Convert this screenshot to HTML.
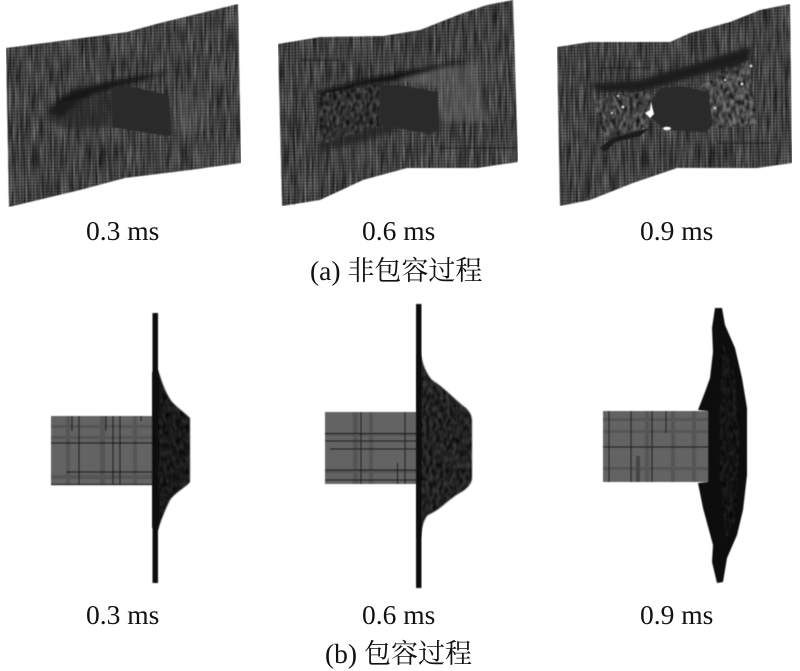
<!DOCTYPE html>
<html><head><meta charset="utf-8">
<style>
html,body{margin:0;padding:0;background:#fff}
svg{display:block}
text{font-family:"Liberation Serif","Noto Serif CJK SC",serif;font-size:27.500px;fill:#111}
</style></head>
<body>
<svg width="800" height="671" viewBox="0 0 800 671" xmlns="http://www.w3.org/2000/svg">
<defs>
<pattern id="mesh" width="3" height="3" patternUnits="userSpaceOnUse" patternTransform="rotate(-1)">
<rect width="3" height="3" fill="#5a5a5a"/>
<rect width="1" height="3" fill="#2a2a2a"/>
<rect width="3" height="1" fill="#303030"/>
</pattern>
<filter id="streak" x="0" y="0" width="100%" height="100%" color-interpolation-filters="sRGB">
<feTurbulence type="fractalNoise" baseFrequency=".42 .035" numOctaves="2" seed="4" result="n"/>
<feColorMatrix in="n" type="matrix" values=".9 0 0 0 .05  .9 0 0 0 .05  .9 0 0 0 .05  0 0 0 0 1" result="g"/>
<feComposite in="SourceGraphic" in2="g" operator="arithmetic" k1="2" k2="0" k3="0" k4="0" result="m"/>
<feComposite in="m" in2="SourceAlpha" operator="in" result="c"/>
<feGaussianBlur in="c" stdDeviation="0.650"/>
</filter>
<filter id="speck" x="-5%" y="-5%" width="110%" height="110%" color-interpolation-filters="sRGB">
<feTurbulence type="fractalNoise" baseFrequency=".3 .16" numOctaves="2" seed="9" result="n"/>
<feColorMatrix in="n" type="matrix" values="1.300 0 0 0 -.15  1.300 0 0 0 -.15  1.300 0 0 0 -.15  0 0 0 0 1" result="g"/>
<feComposite in="SourceGraphic" in2="g" operator="arithmetic" k1="2" k2="0" k3="0" k4="0" result="m"/>
<feComposite in="m" in2="SourceAlpha" operator="in" result="c"/>
<feGaussianBlur in="c" stdDeviation="0.800"/>
</filter>
<filter id="b1" x="-5%" y="-5%" width="110%" height="110%"><feGaussianBlur stdDeviation="0.500"/></filter>
<filter id="b2" x="-20%" y="-20%" width="140%" height="140%"><feGaussianBlur stdDeviation="2"/></filter>
<filter id="b3" x="-30%" y="-30%" width="160%" height="160%"><feGaussianBlur stdDeviation="0.500"/></filter>
</defs>

<!-- Top panel 1 -->
<path d="M6 48 L60 41 L127 32 L160 23 L238 4 L241 163 L190 170 L125 178 L80 190 L9 207 Z" fill="url(#mesh)" filter="url(#streak)"/>
<g filter="url(#b2)">
<path d="M48 112 L60 98 L75 90 L115 80 L172 71 L130 84 L100 92 L80 100 L62 118 Z" fill="#141414"/>
<path d="M46 118 L62 102 L80 98 L111 94 L111 127 L60 128 Z" fill="#222" opacity=".65"/>
<path d="M172 88 L205 100 L212 125 L195 135 L172 130 Z" fill="#777" opacity=".22"/>
</g>
<path d="M111 88 L124 85 L169 95 L172 135 L167 136 L112 127 Z" fill="#2c2c2c" filter="url(#b1)"/>

<!-- Top panel 2 -->
<path d="M278 44 L320 37 L383 36 L420 30 L463 13 L487 5 L513 0 L518 162 L477 168 L407 168 L363 180 L320 200 L282 206 Z" fill="url(#mesh)" filter="url(#streak)"/>
<g stroke="#141414" stroke-width="1.200" opacity=".55" filter="url(#b1)" fill="none"><path d="M294 42V205M464 14V166M300 60H340M440 148H517"/></g>
<g filter="url(#b2)">
<path d="M318 92 L370 78 L470 60 L400 80 L360 86 L320 100 Z" fill="#101010"/>
<path d="M445 68 L475 65 L488 122 L440 122 L440 88 L395 80 Z" fill="#707070" opacity=".42"/>
<path d="M318 142 L360 132 L385 122 L400 130 L360 142 L320 152 Z" fill="#1c1c1c" opacity=".65"/>
</g>
<path d="M317 94 L380 84 L380 125 L320 145 Z" fill="#303030" filter="url(#speck)"/>
<path d="M380 85 L398 85 L438 92 L439 130 L430 134 L380 125 Z" fill="#2a2a2a" filter="url(#b1)"/>

<!-- Top panel 3 -->
<path d="M557 47 L590 42 L670 42 L690 33 L730 22 L760 10 L790 4 L792 163 L757 168 L677 168 L633 183 L590 200 L560 206 Z" fill="url(#mesh)" filter="url(#streak)"/>
<g stroke="#141414" stroke-width="1.200" opacity=".55" filter="url(#b1)" fill="none"><path d="M588 44V198M730 24V166M600 68H650M718 143H770"/></g>
<g filter="url(#b2)">
<path d="M590 84 L640 80 L700 62 L752 46 L748 62 L690 78 L640 92 L600 92 Z" fill="#1a1a1a"/>
</g>
<path d="M593 100 L650 90 L652 118 L640 130 L605 140 Z" fill="#434343" filter="url(#speck)"/>
<path d="M700 86 L748 60 L757 125 L715 128 Z" fill="#4a4a4a" filter="url(#speck)"/>
<g fill="#ddd" filter="url(#b3)">
<circle cx="623" cy="107" r="1.400"/><circle cx="612" cy="113" r="1.100"/><circle cx="618" cy="96" r="1.100"/>
<circle cx="742" cy="84" r="1.500"/><circle cx="751" cy="66" r="1.400"/><circle cx="715" cy="108" r="1.100"/>
<circle cx="725" cy="80" r="1.100"/>
</g>
<path d="M600 148 L612 138 L650 128 L640 136 L615 142 L605 152 Z" fill="#1b1b1b" filter="url(#b3)"/>
<path d="M652 100 L660 88 L680 86 L708 92 L713 125 L705 132 L665 130 L652 118 Z" fill="#2a2a2a" filter="url(#b1)"/>
<path d="M651 102 L650 110 L645 113 L650 118 L654 114 Z" fill="#fff" filter="url(#b3)"/>
<ellipse cx="667" cy="128.500" rx="4" ry="1.700" fill="#fff" filter="url(#b3)"/>

<!-- Bottom panel 1 -->
<g filter="url(#b1)">
<rect x="51" y="416" width="102" height="69" fill="#646464"/>
<g fill="#555"><rect x="66" y="416" width="4" height="69"/><rect x="100" y="416" width="5" height="69"/><rect x="133" y="416" width="4" height="69"/><rect x="51" y="425" width="102" height="3"/><rect x="51" y="436" width="102" height="3"/><rect x="51" y="475" width="102" height="4"/></g>
<g stroke="#151515" stroke-width="1.200"><path d="M72 416V431M79 416V485M106 416V431M113 416V485M120 416V485M141 416V421M51 443H153M66 472H153M51 484.500H153"/></g>
</g>
<path d="M158 370 C162 382 165 392 172 402 C178 408 186 414 190 418 L190 482 C186 487 176 492 170 500 C165 510 161 520 158 530 L154 530 L154 370 Z" fill="#191919" filter="url(#speck)"/>
<path d="M158 372 C163 395 157 420 157 450 C157 490 163 510 158 528 L152 528 L152 372 Z M152.500 313 H158 V583 H152.500 Z" fill="#0e0e0e" filter="url(#b1)"/>

<!-- Bottom panel 2 -->
<g filter="url(#b1)">
<rect x="325" y="412" width="92" height="72" fill="#646464"/>
<g fill="#555"><rect x="353" y="412" width="5" height="72"/><rect x="369" y="412" width="4" height="72"/><rect x="325" y="433" width="92" height="3"/><rect x="325" y="470" width="92" height="3"/></g>
<g stroke="#1a1a1a" stroke-width="1.200"><path d="M361 412V484M405 412V484M397.500 463V484M325 433.500H417M325 441H417M330 449H417M325 470H417M325 480H417"/></g>
</g>
<path d="M421 355 C423 365 426 373 432 380 C445 388 455 400 466 408 C470 412 472 416 472 421 L472 478 C472 484 466 490 458 494 C448 500 440 510 428 515 C423 520 422 528 421 537 L417 537 L417 355 Z" fill="#222" filter="url(#speck)"/>
<rect x="416" y="304" width="5.500" height="284" fill="#111" filter="url(#b1)"/>

<!-- Bottom panel 3 -->
<g filter="url(#b1)">
<rect x="603" y="411" width="106" height="71" fill="#646464"/>
<g fill="#555"><rect x="645" y="411" width="4" height="71"/><rect x="671" y="411" width="4" height="71"/><rect x="692" y="411" width="4" height="71"/><rect x="603" y="418" width="106" height="3"/><rect x="603" y="430" width="106" height="3"/><rect x="603" y="467" width="106" height="3"/><rect x="636" y="456" width="4" height="26" fill="#444"/></g>
<g stroke="#1a1a1a" stroke-width="1.200"><path d="M609 411V482M631 411V482M652 411V482M666 411V433M603 447H709"/></g>
<path d="M715 308 L722 308 L725 325 L735 348 L742 378 L747 408 L747 438 L747 475 L743 510 L737 535 L727 558 L723 582 L717 583 L712 562 L713 545 L703 508 L698 483 L708 482 L708 411 L698 410 L705 392 L710 378 L713 352 L712 328 Z" fill="#0f0f0f"/>
</g>
<path d="M722 340 L735 375 L740 440 L735 520 L726 540 L720 480 L720 400 Z" fill="#141414" filter="url(#speck)"/>

<!-- Labels -->
<text x="86" y="240">0.3 ms</text>
<text x="362" y="240">0.6 ms</text>
<text x="640" y="240">0.9 ms</text>
<text x="310" y="280">(a) <tspan font-size="27">非包容过程</tspan></text>
<text x="86" y="624">0.3 ms</text>
<text x="362" y="624">0.6 ms</text>
<text x="640" y="624">0.9 ms</text>
<text x="325" y="663">(b) <tspan font-size="27">包容过程</tspan></text>
</svg>
</body></html>
